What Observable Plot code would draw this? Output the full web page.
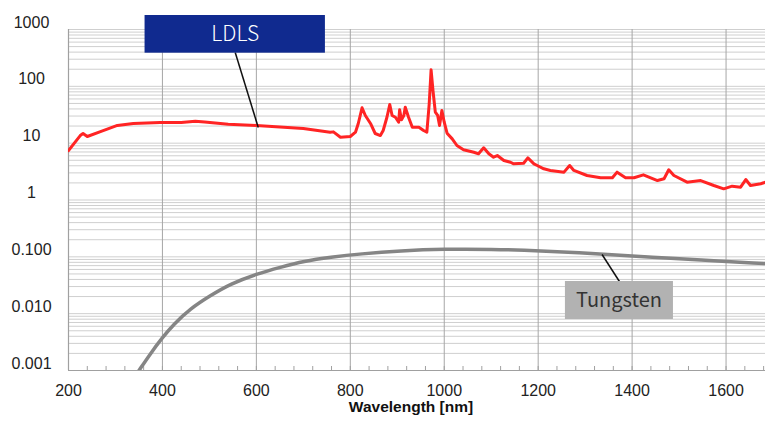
<!DOCTYPE html>
<html>
<head>
<meta charset="utf-8">
<script src="https://cdn.jsdelivr.net/npm/d3@7"></script>
<script src="https://cdn.jsdelivr.net/npm/@observablehq/plot@0.6"></script>
<style>
  html, body { margin: 0; padding: 0; background: #fff; }
</style>
</head>
<body>
<div id="chart"></div>
<script>
// ---- Data ----
const ldlsWavelength = [200, 225, 231, 240, 268, 304, 338, 395, 440, 470, 490, 540, 600, 700, 757, 764, 779, 800, 811, 817, 825, 832, 843, 853, 864, 870, 878, 884, 889, 896, 903, 905, 909, 914, 917, 924, 932, 946, 956, 963, 968, 972, 976, 981, 986, 990, 995, 1000, 1006, 1017, 1027, 1041, 1063, 1073, 1084, 1095, 1105, 1113, 1127, 1141, 1148, 1169, 1178, 1191, 1198, 1212, 1226, 1255, 1267, 1276, 1304, 1333, 1358, 1368, 1386, 1404, 1424, 1454, 1468, 1478, 1489, 1517, 1546, 1574, 1595, 1613, 1631, 1642, 1652, 1674, 1684];
const ldlsValue = [7.4, 13.6, 14.8, 13.1, 16.0, 20.5, 22.2, 23.1, 23.0, 24.3, 23.5, 21.5, 20.5, 18.1, 15.5, 15.8, 12.7, 13.1, 15.6, 22.2, 41.9, 30.7, 22.2, 14.8, 13.6, 16.7, 28.6, 47.9, 30.7, 28.6, 23.4, 38.7, 25.8, 30.7, 43.0, 28.6, 19.1, 19.1, 16.7, 15.6, 49.3, 195, 84.5, 35.1, 30.7, 20.5, 37.6, 23.4, 15.0, 11.9, 9.1, 7.65, 6.93, 6.50, 8.28, 6.50, 5.66, 6.06, 4.95, 4.62, 4.33, 4.44, 5.52, 4.33, 4.05, 3.54, 3.31, 3.09, 4.05, 3.31, 2.70, 2.46, 2.46, 3.09, 2.46, 2.46, 2.77, 2.20, 2.36, 3.40, 2.70, 2.06, 2.20, 1.80, 1.57, 1.75, 1.68, 2.29, 1.80, 1.93, 2.06];

const tungstenWavelength = [335, 349, 374, 399, 424, 459, 502, 545, 601, 651, 701, 758, 822, 907, 1000, 1100, 1200, 1334, 1450, 1524, 1684];
const tungstenValue = [0.00066, 0.00097, 0.00196, 0.00372, 0.0065, 0.0122, 0.0208, 0.0335, 0.0502, 0.0656, 0.0837, 0.0984, 0.113, 0.128, 0.137, 0.136, 0.129, 0.112, 0.098, 0.090, 0.076];

const xTicks = [200, 400, 600, 800, 1000, 1200, 1400, 1600];
const yTicks = [1000, 100, 10, 1, 0.1, 0.01, 0.001];
const yTickLabels = ["1000", "100", "10", "1", "0.100", "0.010", "0.001"];

// ---- Tables ----
const ldls = ldlsWavelength.map((w, i) => ({w, v: ldlsValue[i]}));
const tungsten = tungstenWavelength.map((w, i) => ({w, v: tungstenValue[i]}));
const yLabelMap = new Map(yTicks.map((t, i) => [t, yTickLabels[i]]));

// ---- Layout ----
const W = 765, H = 423;
const mTop = 29, mBottom = 53, mLeft = 68, mRight = 0;
const frameH = H - mTop - mBottom;
const xDomain = [200, 1684];
const yDomain = [0.001, 1000];
const minorX = d3.range(200, 1684, 40);
const minorY = d3.scaleLog().domain(yDomain).ticks();

// annotation placement (data units)
const ldlsBox = {x1: 363, x2: 747, y1: 383, y2: 1763, tx: 555, ty: 830, lx1: 555, ly1: 394, lx2: 604, ly2: 18.9};
const tungBox = {x1: 1258, x2: 1488, y1: 0.0079, y2: 0.0368, tx: 1372, ty: 0.0172, lx1: 1336, ly1: 0.110, lx2: 1373, ly2: 0.0368};

const chart = Plot.plot({
  width: W,
  height: H,
  marginTop: mTop,
  marginBottom: mBottom,
  marginLeft: mLeft,
  marginRight: mRight,
  style: {fontFamily: "'Liberation Sans', Arial, sans-serif", background: "#fff", overflow: "visible"},
  x: {type: "linear", domain: xDomain},
  y: {type: "log", domain: yDomain},
  marks: [
    Plot.gridY(minorY, {stroke: "#cfcfcf", strokeOpacity: 1, strokeWidth: 1}),
    Plot.gridX(xTicks, {stroke: "#a6a6a6", strokeOpacity: 1, strokeWidth: 1}),
    Plot.ruleX([xDomain[0]], {stroke: "#a0a0a0", strokeWidth: 1.2}),
    Plot.ruleY([yDomain[0]], {stroke: "#a0a0a0", strokeWidth: 1.2}),
    Plot.tickX(minorX, {x: d => d, stroke: "#a0a0a0", strokeWidth: 1, insetTop: frameH - 4}),
    Plot.axisX({ticks: xTicks, tickSize: 0, tickPadding: 14, fontSize: 16, fill: "#222", label: null, tickFormat: d => String(d)}),
    Plot.axisY({ticks: yTicks, tickSize: 0, tickPadding: 37, textAnchor: "middle", dy: -7, fontSize: 16, fill: "#222", label: null, tickFormat: d => yLabelMap.get(d)}),
    Plot.text(["Wavelength [nm]"], {frameAnchor: "bottom", dy: 41, dx: -6, fontSize: 15.5, fontWeight: "bold", fill: "#111"}),
    Plot.line(tungsten, {x: "w", y: "v", stroke: "#858585", strokeWidth: 3.5, curve: "basis", clip: true}),
    Plot.line(ldls, {x: "w", y: "v", stroke: "#ff2424", strokeWidth: 3, strokeLinejoin: "round", clip: true}),
    // LDLS annotation
    Plot.link([ldlsBox], {x1: "lx1", y1: "ly1", x2: "lx2", y2: "ly2", stroke: "#111", strokeWidth: 1.5}),
    Plot.rect([ldlsBox], {x1: "x1", x2: "x2", y1: "y1", y2: "y2", fill: "#102a8f"}),
    Plot.text([ldlsBox], {x: "tx", y: "ty", text: () => "LDLS", fill: "#fff", fontSize: 21, fontFamily: "'Noto Sans CJK SC', 'Noto Sans', sans-serif", fontWeight: 300}),
    // Tungsten annotation
    Plot.link([tungBox], {x1: "lx1", y1: "ly1", x2: "lx2", y2: "ly2", stroke: "#111", strokeWidth: 1.5}),
    Plot.rect([tungBox], {x1: "x1", x2: "x2", y1: "y1", y2: "y2", fill: "#b2b2b2"}),
    Plot.text([tungBox], {x: "tx", y: "ty", text: () => "Tungsten", fill: "#333", fontSize: 20, fontFamily: "'Noto Sans CJK SC', 'Noto Sans', sans-serif"})
  ]
});
document.getElementById("chart").appendChild(chart);
</script>
</body>
</html>
